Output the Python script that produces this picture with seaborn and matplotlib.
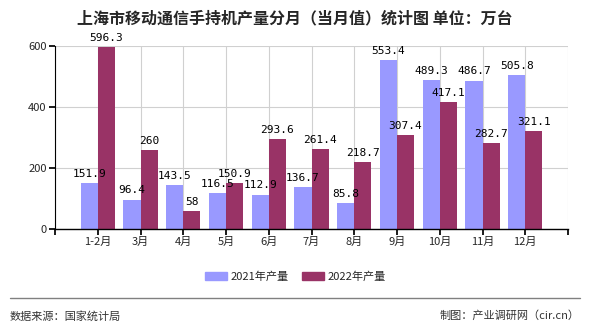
import matplotlib
matplotlib.use("Agg")
import matplotlib.pyplot as plt
import seaborn as sns
import pandas as pd
import numpy as np

months = ["1-2月", "3月", "4月", "5月", "6月", "7月", "8月", "9月", "10月", "11月", "12月"]
v2021 = [151.9, 96.4, 143.5, 116.5, 112.9, 136.7, 85.8, 553.4, 489.3, 486.7, 505.8]
v2022 = [596.3, 260, 58, 150.9, 293.6, 261.4, 218.7, 307.4, 417.1, 282.7, 321.1]
series = ["2021年产量", "2022年产量"]
colors = ["#9999FF", "#993366"]

sns.set_theme(style="white")
plt.rcParams['font.family'] = ['Noto Sans CJK SC', 'DejaVu Sans']

df = pd.DataFrame({
    "month": months * 2,
    "value": v2021 + v2022,
    "series": [series[0]] * len(months) + [series[1]] * len(months),
})

fig = plt.figure(figsize=(5.9, 3.3), dpi=100)
ax = fig.add_axes([55/590, 1 - 229/330, (568-55)/590, (229-46)/330])
sns.barplot(data=df, x="month", y="value", hue="series", palette=colors,
            width=0.8, saturation=1, ax=ax, legend=False, zorder=2,
            linewidth=0, edgecolor="none")
ax.set_xlim(-1, len(months))
ax.set_ylim(0, 600)
ax.set_yticks([0, 200, 400, 600])
ax.set_xticks(range(-1, len(months) + 1))
ax.set_xticklabels([""] + months + [""], fontsize=8)
ax.tick_params(axis='y', labelsize=8, length=4, color="black", direction="out", pad=2)
ax.tick_params(axis='x', length=4, color="black", direction="out", pad=2)
ax.tick_params(left=True, bottom=True)
ax.set_xlabel("")
ax.set_ylabel("")
ax.grid(True, color="#d0d0d0", linewidth=0.8, zorder=0)
ax.set_axisbelow(True)
for s in ["top", "right"]:
    ax.spines[s].set_visible(False)
ax.spines["left"].set_color("black")
ax.spines["bottom"].set_color("black")
ax.spines["left"].set_linewidth(0.8)
ax.spines["bottom"].set_linewidth(1.0)

mono = ['DejaVu Sans Mono']
for container in ax.containers:
    labels = [("%g" % b.get_height()) for b in container]
    ax.bar_label(container, labels=labels, padding=3, fontsize=8, family=mono, color="black")

from matplotlib.patches import Patch
handles = [Patch(color=c, label=l) for c, l in zip(colors, series)]
fig.legend(handles=handles, loc="center", bbox_to_anchor=(0.5, 1 - 277/330), ncol=2,
           frameon=False, fontsize=8, handlelength=2.0, handleheight=0.7,
           columnspacing=1.2, handletextpad=0.3)

fig.text(0.5, 1 - 18/330, "上海市移动通信手持机产量分月（当月值）统计图 单位：万台",
         ha="center", va="center", fontsize=11.5, fontweight="bold")
fig.add_artist(plt.Line2D([10/590, 580/590], [1 - 298/330] * 2, color="#808080", linewidth=1))
fig.text(10/590, 1 - 316/330, "数据来源：国家统计局", ha="left", va="center", fontsize=8, color="#333333")
fig.text(580/590, 1 - 316/330, "制图：产业调研网（cir.cn）", ha="right", va="center", fontsize=8, color="#333333")

fig.savefig("out.png", dpi=100)
